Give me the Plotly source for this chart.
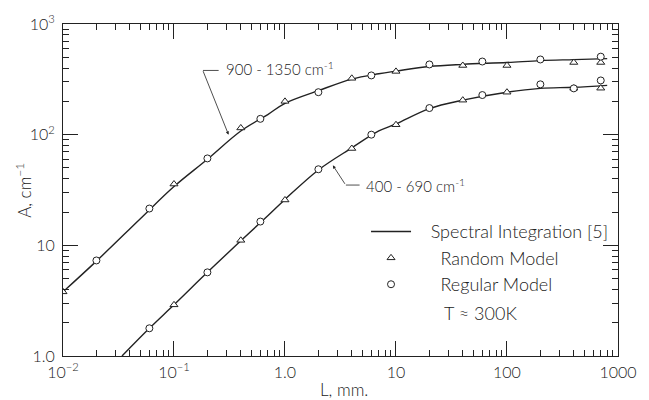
import numpy as np
import plotly.graph_objects as go

# ---- data ----
# Spectral integration curves (solid lines)
up_line_L = [0.01, 0.02, 0.05, 0.1, 0.2, 0.4, 0.7, 1, 2, 4, 7, 10, 20, 40, 100, 200, 400, 800]
up_line_A = [3.8, 7.2, 17.5, 34, 60, 108, 152, 192, 250, 318, 355, 375, 413, 432, 449, 467, 477, 487]
lo_line_L = [0.034, 0.06, 0.1, 0.2, 0.4, 0.7, 1, 2, 4, 7, 10, 20, 40, 100, 200, 400, 800]
lo_line_A = [1.0, 1.78, 2.9, 5.7, 11, 18.5, 26, 48, 76, 108, 125, 172, 205, 242, 262, 268, 279]

# Random model (triangles)
up_rand_L = [0.01, 0.1, 0.4, 1, 4, 10, 40, 100, 400, 700]
up_rand_A = [3.8, 35.8, 115, 200, 323, 373, 422, 422, 449, 449]
lo_rand_L = [0.1, 0.4, 1, 4, 10, 40, 100, 400, 700]
lo_rand_A = [2.9, 11.1, 25.7, 75, 123, 205, 242, 263, 263]

# Regular model (circles)
up_reg_L = [0.02, 0.06, 0.2, 0.6, 2, 6, 20, 60, 200, 700]
up_reg_A = [7.3, 21.5, 61, 139, 242, 343, 431, 458, 478, 507]
lo_reg_L = [0.06, 0.2, 0.6, 2, 6, 20, 60, 200, 400, 700]
lo_reg_A = [1.78, 5.7, 16.4, 48.7, 100, 174, 228, 285, 262, 309]

x_tickvals = [0.01, 0.1, 1, 10, 100, 1000]
x_ticktext = ["10<sup>−2</sup>", "10<sup>−1</sup>", "1.0", "10", "100", "1000"]
y_tickvals = [1, 10, 100, 1000]
y_ticktext = ["1.0", "10", "10<sup>2</sup>", "10<sup>3</sup>"]

FONT = "Lato, DejaVu Sans, sans-serif"
WEIGHT = 300
INK = "#222222"
NB = "\u00a0"

def f(size):
    return dict(family=FONT, size=size, color=INK, weight=WEIGHT)

fig = go.Figure()

# lines
fig.add_trace(go.Scatter(x=up_line_L, y=up_line_A, mode="lines", line=dict(color=INK, width=1.4, shape="spline"),
                         name=NB * 3 + "Spectral Integration [5]", legendgroup="a", showlegend=True))
fig.add_trace(go.Scatter(x=lo_line_L, y=lo_line_A, mode="lines", line=dict(color=INK, width=1.4, shape="spline"),
                         legendgroup="a", showlegend=False))

mk_tri = dict(symbol="triangle-up", size=7, color="white", line=dict(color=INK, width=1))
mk_cir = dict(symbol="circle", size=7, color="white", line=dict(color=INK, width=1))

fig.add_trace(go.Scatter(x=up_rand_L, y=up_rand_A, mode="markers", marker=mk_tri,
                         name=NB * 5 + "Random Model", legendgroup="b", showlegend=True))
fig.add_trace(go.Scatter(x=lo_rand_L, y=lo_rand_A, mode="markers", marker=mk_tri,
                         legendgroup="b", showlegend=False))
fig.add_trace(go.Scatter(x=up_reg_L, y=up_reg_A, mode="markers", marker=mk_cir,
                         name=NB * 5 + "Regular Model", legendgroup="c", showlegend=True))
fig.add_trace(go.Scatter(x=lo_reg_L, y=lo_reg_A, mode="markers", marker=mk_cir,
                         legendgroup="c", showlegend=False))

minor_vals = [m * 10.0 ** d for d in range(-2, 3) for m in range(2, 10)]
minor_y = [m * 10.0 ** d for d in range(0, 3) for m in range(2, 10)]

fig.update_xaxes(type="log", range=[-2, 3.0005], tickvals=x_tickvals, ticktext=x_ticktext,
                 ticks="inside", ticklen=15, tickwidth=1, tickcolor=INK,
                 showline=True, linecolor=INK, linewidth=1, mirror="allticks",
                 showgrid=False, zeroline=False, ticklabeloverflow="allow", ticklabelstandoff=2,
                 minor=dict(tickvals=minor_vals, ticks="inside", ticklen=6, tickcolor=INK, showgrid=False),
                 tickfont=f(16))
fig.update_yaxes(type="log", range=[0, 3], tickvals=y_tickvals, ticktext=y_ticktext,
                 ticks="inside", ticklen=15, tickwidth=1, tickcolor=INK,
                 showline=True, linecolor=INK, linewidth=1, mirror="allticks",
                 showgrid=False, zeroline=False, ticklabeloverflow="allow", ticklabelstandoff=4,
                 minor=dict(tickvals=minor_y, ticks="inside", ticklen=6, tickcolor=INK, showgrid=False),
                 tickfont=f(16))

def px_x(p):
    return (p - 63) / 567

def px_y(p):
    return (356 - p) / 336

annotations = [
    dict(xref="paper", yref="paper", x=px_x(22), y=0.5, text="A, cm<sup>−1</sup>", textangle=-90,
         xanchor="center", yanchor="middle", showarrow=False, font=f(17)),
    dict(xref="paper", yref="paper", x=px_x(350), y=px_y(390), text="L, mm.", showarrow=False,
         xanchor="center", yanchor="middle", font=f(17)),
    dict(xref="paper", yref="paper", x=px_x(490), y=px_y(312), text="T ≈ 300K", showarrow=False,
         xanchor="center", yanchor="middle", font=f(18)),
    # curve labels
    dict(x=np.log10(0.31), y=2.0, xref="x", yref="y", text="", showarrow=True, arrowhead=2,
         arrowsize=0.8, arrowwidth=0.8, arrowcolor=INK, ax=-26, ay=-65),
    dict(xref="paper", yref="paper", x=px_x(227), y=px_y(65), xanchor="left", yanchor="middle",
         text="900 - 1350 cm<sup>-1</sup>", showarrow=False, font=f(15)),
    dict(x=np.log10(2.7), y=1.723, xref="x", yref="y", text="", showarrow=True, arrowhead=2,
         arrowsize=0.8, arrowwidth=0.8, arrowcolor=INK, ax=13, ay=20),
    dict(xref="paper", yref="paper", x=px_x(370), y=px_y(183), xanchor="left", yanchor="middle",
         text="400 - 690 cm<sup>-1</sup>", showarrow=False, font=f(15)),
]

shapes = [
    dict(type="line", xref="paper", yref="paper", x0=px_x(206), x1=px_x(222),
         y0=px_y(67), y1=px_y(67), line=dict(color=INK, width=0.8)),
    dict(type="line", xref="paper", yref="paper", x0=px_x(352), x1=px_x(366),
         y0=px_y(183), y1=px_y(183), line=dict(color=INK, width=0.8)),
]

fig.update_layout(
    width=649, height=400,
    margin=dict(l=63, r=19, t=20, b=44),
    paper_bgcolor="white", plot_bgcolor="white",
    annotations=annotations, shapes=shapes,
    legend=dict(x=0.546, y=0.43, xanchor="left", yanchor="top", bgcolor="rgba(0,0,0,0)",
                font=f(18), tracegroupgap=0, itemwidth=40),
)

fig.write_html("out.html")
